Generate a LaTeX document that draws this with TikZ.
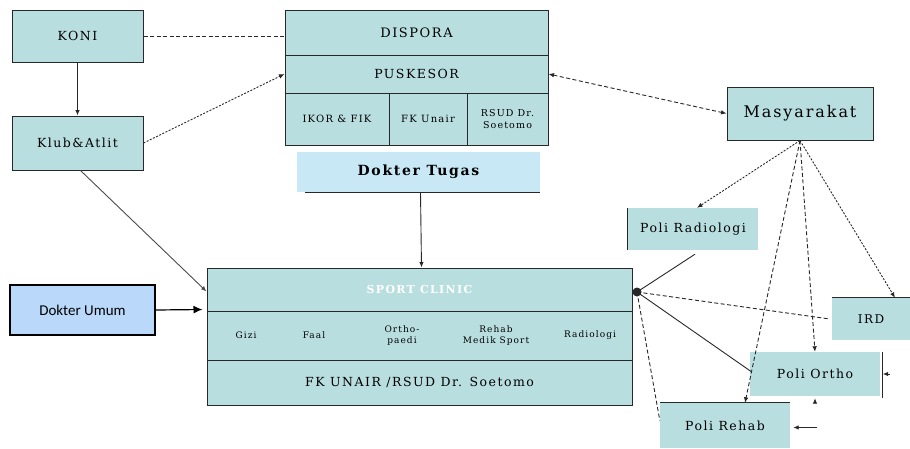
\documentclass[tikz,border=0pt]{standalone}
\usepackage{fontspec}
\setmainfont{DejaVu Serif}[LetterSpace=12]
\newfontfamily\calfont{Carlito}
\usetikzlibrary{arrows.meta,calc}
\definecolor{tealfill}{RGB}{185,222,224}
\definecolor{tugasfill}{RGB}{200,232,246}
\definecolor{umumfill}{RGB}{186,216,250}
\definecolor{edge}{RGB}{40,40,40}
\newcommand{\fsz}[1]{\fontsize{#1}{#1}\selectfont}
\tikzset{
  box/.style={draw=edge, line width=1pt, fill=tealfill, inner sep=0pt, align=center, font=\fsz{12.5}},
  plain/.style={fill=tealfill, inner sep=0pt, align=center, font=\fsz{12.5}},
  conn/.style={line width=0.9pt, draw=edge},
  tip/.style={-{Latex[length=5.5pt,width=4.5pt]}},
  dtip/.style={{Latex[length=5.5pt,width=4.5pt]}-{Latex[length=5.5pt,width=4.5pt]}},
  dsh/.style={dash pattern=on 4pt off 2.5pt},
  fine/.style={dash pattern=on 2pt off 1.5pt},
}
\begin{document}
\begin{tikzpicture}[x=1pt,y=-1pt]
\useasboundingbox[fill=white] (0,0) rectangle (910,448);
% left column
\node[box, minimum width=131pt, minimum height=52pt] (koni) at (77.5,36) {KONI};
\node[box, minimum width=131pt, minimum height=54pt] (klub) at (77.5,143) {Klub\&Atlit};
% dispora block
\node[box, minimum width=263pt, minimum height=45pt, font=\fsz{13}] (dispora) at (416.5,32.5) {DISPORA};
\node[box, minimum width=263pt, minimum height=38pt, font=\fsz{12.5}] (puskesor) at (416.5,74) {PUSKESOR};
\node[box, minimum width=104pt, minimum height=52pt, font=\fsz{10}] (sub1) at (337,119) {IKOR \& FIK};
\node[box, minimum width=78pt, minimum height=52pt, font=\fsz{10}] (sub2) at (428,119) {FK Unair};
\node[box, minimum width=81pt, minimum height=52pt, font=\fontsize{9.5}{12}\selectfont] (sub3) at (507.5,119) {RSUD Dr.\\Soetomo};
\node[fill=tugasfill, inner sep=0pt, minimum width=243pt, minimum height=40pt, font=\fsz{14}\bfseries] (tugas) at (418.5,172) {Dokter Tugas};
\draw[line width=1.2pt, edge] ($(tugas.south west)+(8,0)$) -- (tugas.south east);
% right side
\node[box, minimum width=146pt, minimum height=53pt, font=\fsz{16}] (masy) at (800,113.5) {Masyarakat};
\node[plain, minimum width=130pt, minimum height=42pt] (radio) at (693,229) {Poli Radiologi};
\draw[line width=1.2pt, edge] (radio.north west) -- (radio.south west);
\node[plain, minimum width=78pt, minimum height=42pt, font=\fsz{12}] (ird) at (871,319) {IRD};
\draw[line width=1.2pt, edge] (ird.north west) -- (ird.north east);
\node[plain, minimum width=130pt, minimum height=44pt] (ortho) at (815,374) {Poli Ortho};
\draw[line width=1.2pt, edge] ($(ortho.north east)+(2,0)$) -- ($(ortho.south east)+(2,2)$);
\node[plain, minimum width=130pt, minimum height=45pt] (rehab) at (725,425.5) {Poli Rehab};
\draw[line width=1.2pt, edge] (rehab.north west) -- (rehab.north east);
% sport clinic block
\node[box, minimum width=425pt, minimum height=43pt, text=white, font=\fsz{11}\bfseries] (sport) at (419.5,289.5) {SPORT CLINIC};
\node[box, minimum width=425pt, minimum height=49pt] (items) at (419.5,335.5) {};
\node[box, minimum width=425pt, minimum height=45pt, font=\fsz{12.5}] (fk) at (419.5,382.5) {FK UNAIR /RSUD Dr. Soetomo};
\begin{scope}[every node/.style={align=center, font=\fontsize{9}{11}\selectfont}]
\node (gizi) at (246,335.5) {Gizi};
\node (faal) at (314,335.5) {Faal};
\node (orthop) at (402,335.5) {Ortho-\\paedi};
\node (rehmed) at (496,335.5) {Rehab\\Medik Sport};
\node (radiol) at (590,335.5) {Radiologi};
\end{scope}
\node[draw=black, line width=1.2pt, fill=umumfill, minimum width=145pt, minimum height=50pt, inner sep=0pt, font=\calfont\fsz{15}] (umum) at (82.5,310) {Dokter Umum};
% hub point
\coordinate (hub) at (637,292);
\fill[edge] (hub) circle (4.5pt);
\coordinate (mp) at (masy.south);
% connectors
\draw[conn, dsh] (koni.east) -- (dispora.west |- koni.east);
\draw[conn, tip] (koni.south) -- (klub.north);
\draw[conn, fine, tip] (klub.east) -- (puskesor.west);
\draw[conn, draw=black!70, tip] ($(klub.south)+(3,0)$) -- ($(sport.west)+(0,2)$);
\draw[line width=1.2pt, -{Latex[length=9pt,width=8pt]}] (umum.east) -- ($(items.north west)+(-4,-1)$);
\draw[conn, tip] ($(tugas.south)+(2,0)$) -- ($(sport.north)+(2,0)$);
\draw[conn, dsh, dtip] (puskesor.east) -- (masy.west);
\draw[conn, fine, tip] (mp) -- ($(radio.north)+(4,0)$);
\draw[conn, dsh, tip] (mp) -- ($(rehab.north)+(20,0)$);
\draw[conn, dsh, tip] (mp) -- (ortho.north);
\draw[conn, fine, tip] (mp) -- ($(ird.north)+(24,0)$);
\draw[conn] (hub) -- ($(radio.south)+(2,4)$);
\draw[conn, dsh] (hub) -- ($(ird.west)+(-2,0)$);
\draw[conn] (hub) -- ($(ortho.west)+(2,-2)$);
\draw[conn, dsh] (hub) -- ($(rehab.west)+(0,-5)$);
% small fragments
\draw[conn, tip] ($(ortho.east)+(10,0)$) -- ($(ortho.east)+(2.5,0)$);
\draw[conn, tip] ($(ortho.south)+(0,6)$) -- ($(ortho.south)+(0,2)$);
\draw[conn, tip] ($(rehab.east)+(27,2)$) -- ($(rehab.east)+(3,2)$);
\end{tikzpicture}
\end{document}
